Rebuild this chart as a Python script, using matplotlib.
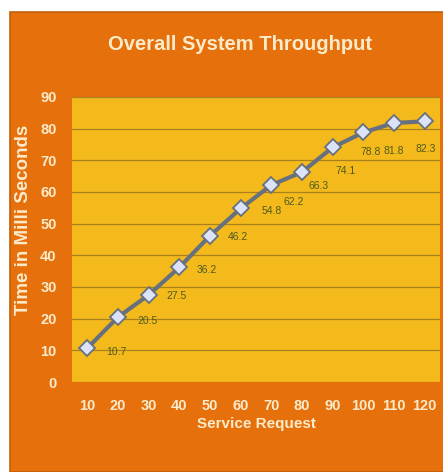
import matplotlib
matplotlib.use("Agg")
import matplotlib.pyplot as plt
from matplotlib.patches import Rectangle

# chart data
requests = ["10", "20", "30", "40", "50", "60", "70", "80", "90", "100", "110", "120"]
times = [10.7, 20.5, 27.5, 36.2, 46.2, 54.8, 62.2, 66.3, 74.1, 78.8, 81.8, 82.3]
y_ticks = [0, 10, 20, 30, 40, 50, 60, 70, 80, 90]

# where each data label sits relative to its point (offset points), like excel placed them
label_offsets = [(21, -3), (21, -3), (20, -1), (20, -2), (20, -1), (22, -2),
                 (16, -12), (12, -10), (9, -17), (5, -14), (0, -20), (1, -20)]

orange = "#E5700C"
yellow = "#F4BA1C"
cream = "#FCEBCB"
label_col = "#4F5A1E"
font = ["Liberation Sans", "DejaVu Sans"]

fig = plt.figure(figsize=(4.43, 4.72), dpi=100)
fig.patch.set_facecolor("white")

# orange chart box behind everything
box = Rectangle((10 / 443, 0), 1, 1 - 12 / 472, transform=fig.transFigure,
                facecolor=orange, edgecolor="#C0600A", linewidth=1.2, zorder=-10)
fig.patches.append(box)

ax = fig.add_axes([72 / 443, 1 - 382 / 472, 368 / 443, 285 / 472])
ax.set_zorder(5)
ax.set_facecolor(yellow)

x = list(range(len(requests)))
ax.plot(x, times, color="#66707F", linewidth=3, marker="D", markersize=8,
        markerfacecolor="#DCE2F7", markeredgecolor="#66707F", markeredgewidth=1.3, zorder=3)

for xi, v, off in zip(x, times, label_offsets):
    ax.annotate(f"{v}", (xi, v), xytext=off, textcoords="offset points",
                ha="center", va="center", fontsize=7.5, color=label_col, family=font)

ax.set_xlim(-0.5, len(requests) - 0.5)
ax.set_ylim(0, 90)
ax.set_yticks(y_ticks)
ax.set_xticks(x)
ax.set_xticklabels(requests)
ax.grid(axis="y", color="#A9801E", linewidth=0.9)
ax.set_axisbelow(True)
for s in ax.spines.values():
    s.set_visible(False)
ax.tick_params(length=0, colors=cream, labelsize=10.5)
ax.tick_params(axis="x", pad=12)
ax.tick_params(axis="y", pad=11)
for lab in ax.get_xticklabels() + ax.get_yticklabels():
    lab.set_fontweight("bold")
    lab.set_family(font)

ax.set_xlabel("Service Request", color=cream, fontsize=11, fontweight="bold", family=font, labelpad=3)
ax.set_ylabel("Time in Milli Seconds", color=cream, fontsize=13.5, fontweight="bold", family=font)
ax.yaxis.set_label_coords(-0.108, 0.57)

fig.text(240 / 443, 1 - 45 / 472, "Overall System Throughput", ha="center", va="center",
         color=cream, fontsize=14.5, fontweight="bold", family=font)

fig.savefig("out.png", dpi=100)
